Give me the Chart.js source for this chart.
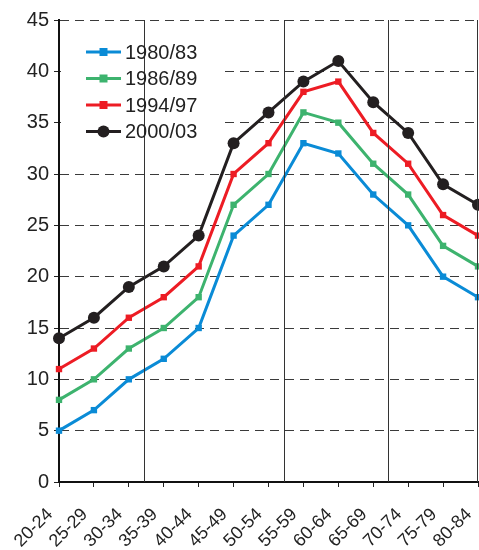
<!DOCTYPE html>
<html>
<head>
<meta charset="utf-8">
<script src="https://cdn.jsdelivr.net/npm/chart.js@4/dist/chart.umd.min.js"></script>
<style>
    html, body { margin: 0; padding: 0; background: #fff; }
    #wrap { width: 479px; height: 550px; position: relative; }
</style>
</head>
<body>
<div id="wrap"><canvas id="ageChart"></canvas></div>
<script>
// ========== DỮ LIỆU ==========
const ageGroups = ['20-24', '25-29', '30-34', '35-39', '40-44', '45-49', '50-54',
    '55-59', '60-64', '65-69', '70-74', '75-79', '80-84'];

const seriesNames = ['1980/83', '1986/89', '1994/97', '2000/03'];
const values1980 = [5, 7, 10, 12, 15, 24, 27, 33, 32, 28, 25, 20, 18];
const values1986 = [8, 10, 13, 15, 18, 27, 30, 36, 35, 31, 28, 23, 21];
const values1994 = [11, 13, 16, 18, 21, 30, 33, 38, 39, 34, 31, 26, 24];
const values2000 = [14, 16, 19, 21, 24, 33, 36, 39, 41, 37, 34, 29, 27];

const yTicks = [0, 5, 10, 15, 20, 25, 30, 35, 40, 45];
// vị trí các đường dọc (theo chỉ số nhóm tuổi)
const dividerPositions = [2.44, 6.45, 9.43];

const seriesColors = ['#0a8bd6', '#3db36e', '#ed1c24', '#231f20'];
const seriesMarkers = ['rect', 'rect', 'rect', 'circle'];

// ========== PLUGIN ==========
const dividerPlugin = {
    id: 'dividers',
    afterDatasetsDraw(chart) {
        const { ctx, chartArea, scales } = chart;
        ctx.save();
        ctx.strokeStyle = '#333';
        ctx.lineWidth = 1;
        dividerPositions.forEach(pos => {
            const x = Math.round(scales.x.getPixelForValue(pos)) + 0.5;
            ctx.beginPath();
            ctx.moveTo(x, chartArea.top);
            ctx.lineTo(x, chartArea.bottom);
            ctx.stroke();
        });
        // viền phải
        ctx.beginPath();
        ctx.moveTo(chartArea.right - 0.5, chartArea.top);
        ctx.lineTo(chartArea.right - 0.5, chartArea.bottom);
        ctx.stroke();
        ctx.restore();
    }
};

const legendPlugin = {
    id: 'innerLegend',
    beforeDatasetsDraw(chart) {
        const { ctx, chartArea } = chart;
        ctx.save();
        ctx.fillStyle = '#fff';
        ctx.fillRect(chartArea.left + 2, chartArea.top + 14, 160, 128);
        ctx.restore();
    },
    afterDraw(chart) {
        const { ctx, chartArea } = chart;
        ctx.save();
        ctx.font = '20px Arial, "Liberation Sans", sans-serif';
        ctx.textBaseline = 'middle';
        seriesNames.forEach((name, i) => {
            const y = chartArea.top + 32 + i * 26.5;
            const x0 = chartArea.left + 27;
            ctx.strokeStyle = seriesColors[i];
            ctx.fillStyle = seriesColors[i];
            ctx.lineWidth = 3;
            ctx.beginPath();
            ctx.moveTo(x0, y);
            ctx.lineTo(x0 + 35, y);
            ctx.stroke();
            if (seriesMarkers[i] === 'circle') {
                ctx.beginPath();
                ctx.arc(x0 + 17.5, y, 6, 0, Math.PI * 2);
                ctx.fill();
            } else {
                ctx.fillRect(x0 + 13.5, y - 4, 8, 8);
            }
            ctx.fillStyle = '#222';
            ctx.fillText(name, x0 + 39, y + 1);
        });
        ctx.restore();
    }
};

// ========== BIỂU ĐỒ ==========
function makeDataset(label, data, i) {
    return {
        label: label,
        data: data,
        borderColor: seriesColors[i],
        backgroundColor: seriesColors[i],
        borderWidth: 3,
        pointStyle: seriesMarkers[i],
        pointRadius: seriesMarkers[i] === 'circle' ? 6 : 4.5,
        pointBorderWidth: 0,
        tension: 0,
        clip: false
    };
}

const ctx = document.getElementById('ageChart').getContext('2d');
const ageChart = new Chart(ctx, {
    type: 'line',
    data: {
        labels: ageGroups,
        datasets: [
            makeDataset(seriesNames[0], values1980, 0),
            makeDataset(seriesNames[1], values1986, 1),
            makeDataset(seriesNames[2], values1994, 2),
            makeDataset(seriesNames[3], values2000, 3)
        ]
    },
    options: {
        responsive: true,
        maintainAspectRatio: false,
        animation: false,
        layout: { autoPadding: false, padding: { top: 20, right: 1, left: 0, bottom: 0 } },
        plugins: {
            legend: { display: false },
            tooltip: { enabled: false }
        },
        scales: {
            x: {
                offset: false,
                grid: { display: true, drawOnChartArea: false, color: '#222', tickLength: 5, lineWidth: 1 },
                border: { color: '#111', width: 2 },
                ticks: {
                    color: '#222',
                    font: { size: 18, family: 'Arial, "Liberation Sans", sans-serif' },
                    maxRotation: 45,
                    minRotation: 45,
                    autoSkip: false,
                    padding: 17,
                    labelOffset: -9
                },
                afterFit: scale => {
                    scale.height = 68;
                    scale.paddingLeft = 0;
                    scale.paddingRight = 0;
                }
            },
            y: {
                min: 0,
                max: 45,
                afterBuildTicks: scale => { scale.ticks = yTicks.map(v => ({ value: v })); },
                grid: {
                    color: '#3a3a3a',
                    lineWidth: 1,
                    tickLength: 5,
                    tickColor: '#222',
                    tickBorderDash: [],
                    drawTicks: true
                },
                border: { color: '#111', width: 2, dash: [9, 6] },
                ticks: {
                    color: '#222',
                    font: { size: 20, family: 'Arial, "Liberation Sans", sans-serif' },
                    padding: 5
                },
                afterFit: scale => { scale.width = 59; }
            }
        }
    },
    plugins: [legendPlugin, dividerPlugin]
});
</script>
</body>
</html>
